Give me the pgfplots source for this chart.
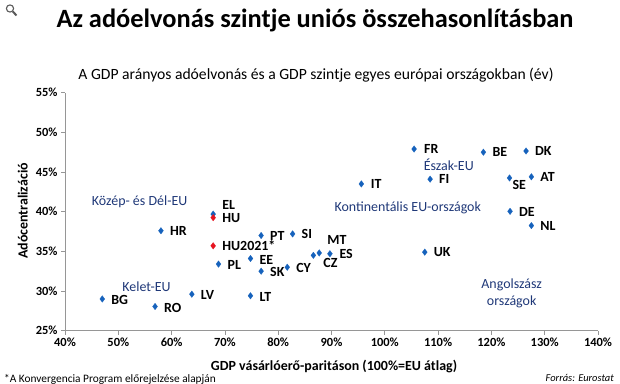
\documentclass[border=0pt]{standalone}
\usepackage{pgfplots}
\pgfplotsset{compat=1.18}
\usepackage{pgfplotstable}
\usepackage{fontspec}
\setmainfont{Carlito}
\definecolor{ptblue}{RGB}{22,98,188}
\definecolor{ptred}{RGB}{230,20,32}
\definecolor{navy}{RGB}{31,56,120}
\definecolor{axgray}{RGB}{150,150,150}

\pgfplotstableread{
x y dx dy label
58.0 37.6 9 0 HR
67.8 39.7 9 9 EL
76.8 37.0 9 0 PT
82.7 37.2 9 0 SI
74.8 34.1 9 -1 EE
68.8 33.4 9 -1 PL
76.8 32.5 9 -1 SK
81.7 33.0 9 -1 CY
74.8 29.4 9 -1 LT
63.8 29.6 9 -1 LV
47.0 29.0 9 -1 BG
56.9 28.05 9 -1 RO
86.6 34.5 10 -8 CZ
87.7 34.8 8 13 MT
89.7 34.7 9.5 0 ES
95.6 43.5 9.5 0 IT
105.5 47.9 10 0 FR
108.5 44.1 9 0 FI
107.5 34.9 9 0 UK
118.5 47.5 9 0 BE
126.5 47.65 9 0 DK
123.4 44.25 3 -7 SE
127.5 44.4 9 0 AT
123.5 40.05 9 -1 DE
127.5 38.25 9 0 NL
}\bluedata

\pgfplotstableread{
x y dx dy label
67.8 39.25 9 0 HU
67.8 35.7 9 0 HU2021*
}\reddata

\begin{document}
\begin{tikzpicture}
\path[use as bounding box] (0,0) rectangle (620bp,384bp);
% magnifier icon
\draw[gray!70!black, line width=1.1bp] (10bp,375.5bp) circle (3.6bp);
\draw[gray!70!black, line width=2bp] (12.8bp,372.5bp) -- (16.5bp,368.5bp);
\node[font=\fontsize{26.5}{30}\selectfont\bfseries, inner sep=0] at (315bp,364bp) {Az adóelvonás szintje uniós összehasonlításban};
\node[font=\fontsize{15.7}{18}\selectfont, inner sep=0] at (316bp,309.2bp) {A GDP arányos adóelvonás és a GDP szintje egyes európai országokban (év)};
\begin{axis}[
  at={(65bp,53.3bp)}, anchor=south west,
  scale only axis, width=533bp, height=238bp,
  xmin=40, xmax=140, ymin=25, ymax=55,
  xtick={40,50,...,140}, ytick={25,30,...,55},
  axis x line*=bottom, axis y line*=left,
  axis line style={draw=axgray, line width=0.8bp},
  tick style={draw=axgray, line width=0.8bp},
  tick align=outside, major tick length=4bp,
  /pgf/number format/assume math mode=true,
  xticklabel={\pgfmathprintnumber{\tick}\%},
  yticklabel={\pgfmathprintnumber{\tick}\%},
  tick label style={font=\fontsize{12.5}{14}\selectfont\bfseries},
  clip=false,
  nodes near coords,
  point meta=explicit symbolic,
  visualization depends on={\thisrow{dx}\as\dx},
  visualization depends on={\thisrow{dy}\as\dy},
  every node near coord/.style={anchor=west, inner sep=0, xshift=\dx bp, yshift=\dy bp, font=\fontsize{14}{16}\selectfont\bfseries, text=black},
]
\addplot[only marks, color=ptblue, mark=diamond*, mark size=3.3bp, mark options={fill=ptblue, draw=ptblue, line width=0.2bp}] table[x=x, y=y, meta=label] {\bluedata};
\addplot[only marks, color=ptred, mark=diamond*, mark size=3.3bp, mark options={fill=ptred, draw=ptred, line width=0.2bp}] table[x=x, y=y, meta=label] {\reddata};

\node[text=navy, font=\fontsize{14}{16}\selectfont] at (axis cs:54.0,41.2) {Közép- és Dél-EU};
\node[text=navy, font=\fontsize{14}{16}\selectfont] at (axis cs:55.3,30.6) {Kelet-EU};
\node[text=navy, font=\fontsize{14}{16}\selectfont] at (axis cs:112.0,45.9) {Észak-EU};
\node[text=navy, font=\fontsize{14}{16}\selectfont] at (axis cs:104.3,40.45) {Kontinentális EU-országok};
\node[text=navy, font=\fontsize{14}{17.3}\selectfont, align=center] at (axis cs:123.8,29.7) {Angolszász\\országok};
\end{axis}
\node[font=\fontsize{14}{16}\selectfont\bfseries, inner sep=0] at (334bp,17bp) {GDP vásárlóerő-paritáson (100\%=EU átlag)};
\node[font=\fontsize{14}{16}\selectfont\bfseries, inner sep=0, rotate=90] at (22.7bp,173bp) {Adócentralizáció};
\node[font=\fontsize{11.4}{13}\selectfont, inner sep=0, anchor=west] at (4bp,5bp) {*A Konvergencia Program előrejelzése alapján};
\node[font=\fontsize{10.5}{12}\selectfont\itshape, inner sep=0, anchor=east] at (614bp,6bp) {Forrás: Eurostat};
\end{tikzpicture}
\end{document}
